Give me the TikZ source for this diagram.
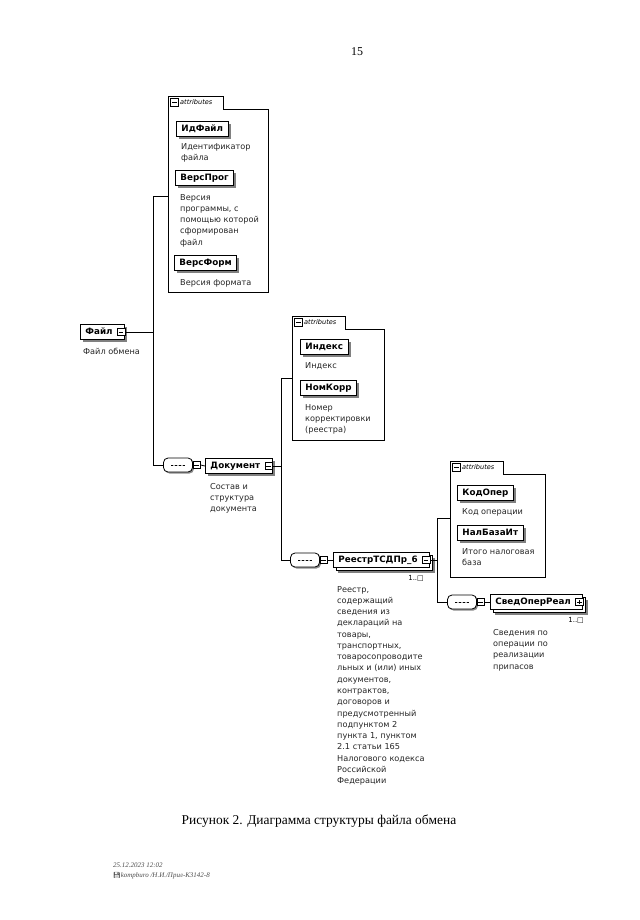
\documentclass[tikz,border=0pt]{standalone}
\usepackage{fontspec}
\setmainfont{Liberation Serif}
\newfontfamily\dv{DejaVu Sans}
\newfontfamily\emo{Noto Emoji}
\usetikzlibrary{shadows}

\newcommand{\pmgap}{\rule{7bp}{0pt}}

\tikzset{
  conn/.style={line width=0.8bp, black},
  elembase/.style={draw=black, line width=0.9bp, fill=white,
    font=\dv\bfseries\fontsize{8.8}{10}\selectfont, inner xsep=5bp, inner ysep=0pt,
    minimum height=15bp, text height=6.6bp, text depth=1.6bp, anchor=west},
  elem/.style={elembase, general shadow={fill=black!50, shadow xshift=2.5bp, shadow yshift=-2.5bp}},
  elemm/.style={elembase,
    general shadow={fill=black!50, shadow xshift=5bp, shadow yshift=-5bp},
    copy shadow={shadow xshift=2.5bp, shadow yshift=-2.5bp, draw=black, fill=white, line width=0.6bp}},
  pm/.style={draw, fill=white, line width=0.6bp, minimum size=7.5bp, inner sep=0pt,
    path picture={\draw[line width=0.6bp] ([xshift=1.4bp]path picture bounding box.west) -- ([xshift=-1.4bp]path picture bounding box.east);}},
  pp/.style={draw, fill=white, line width=0.6bp, minimum size=7.5bp, inner sep=0pt,
    path picture={\draw[line width=0.6bp] ([xshift=1.4bp]path picture bounding box.west) -- ([xshift=-1.4bp]path picture bounding box.east);
      \draw[line width=0.6bp] ([yshift=1.4bp]path picture bounding box.south) -- ([yshift=-1.4bp]path picture bounding box.north);}},
  seq/.style={draw, fill=white, line width=0.8bp, rounded corners=4.5bp, minimum width=29bp, minimum height=14bp, inner sep=0pt,
    general shadow={fill=black!45, shadow xshift=1.5bp, shadow yshift=-1.5bp},
    path picture={\draw[line width=0.5bp] ([xshift=-7bp]path picture bounding box.center) -- ([xshift=7bp]path picture bounding box.center);
      \foreach \d in {-4,0,4} \fill ([xshift=\d bp]path picture bounding box.center) circle (1bp);}},
  desc/.style={font=\dv\fontsize{8.2}{11.3}\selectfont, align=left, anchor=north west, inner sep=0pt, text=black!85},
  attr/.style={line width=0.9bp, black},
  attrlabel/.style={font=\dv\itshape\fontsize{6.6}{8}\selectfont, anchor=west, inner sep=0pt},
  mult/.style={font=\dv\fontsize{7}{8}\selectfont, anchor=east, inner sep=0pt},
}

\begin{document}
\begin{tikzpicture}[x=1bp,y=-1bp]
\useasboundingbox (0,0) rectangle (640,920);
\fill[white] (0,0) rectangle (640,920);

% page number
\node[font=\fontsize{12}{14}\selectfont] (pg) at (357,52) {15};

% ---------- level 0
\node[elem] (fajl) at (80,332) {Файл\pmgap};
\node[pm] (fajlpm) at ([xshift=-4bp]fajl.east) {};
\node[desc] (fajld) at (83,348) {Файл обмена};
\coordinate (j1) at (153,332);
\coordinate (j1t) at (153,196);
\coordinate (j1b) at (153,465);
\draw[conn] (fajlpm.east) -- (j1);
\draw[conn] (j1t) -- (j1b);

% ---------- attributes 1
\coordinate (a1) at (168,196);
\draw[attr] (168,96) -- (223,96) -- (223,109) -- (268,109) -- (268,292) -- (168,292) -- cycle;
\node[pm] (a1pm) at (174.5,102.5) {};
\node[attrlabel] (a1l) at (180,102.5) {attributes};
\draw[conn] (j1t) -- (a1);

\node[elem] (idf) at (176,129) {ИдФайл};
\node[desc] (idfd) at (181,143) {Идентификатор\\файла};
\node[elem] (vprog) at (175,178) {ВерсПрог};
\node[desc] (vprogd) at (180,194) {Версия\\программы, с\\помощью которой\\сформирован\\файл};
\node[elem] (vform) at (174,263) {ВерсФорм};
\node[desc] (vformd) at (180,279) {Версия формата};

% ---------- Документ
\node[seq] (s1) at (178,465) {};
\node[pm] (s1pm) at ([xshift=3.7bp]s1.east) {};
\node[elem] (dok) at (205,466) {Документ\pmgap};
\node[pm] (dokpm) at ([xshift=-4bp]dok.east) {};
\node[desc] (dokd) at (210,483) {Состав и\\структура\\документа};
\draw[conn] (j1b) -- (s1.west);
\draw[conn] (s1pm.east) -- (dok.west);
\coordinate (j2) at (281,466);
\coordinate (j2t) at (281,378);
\coordinate (j2b) at (281,560);
\draw[conn] (dokpm.east) -- (j2);
\draw[conn] (j2t) -- (j2b);

% ---------- attributes 2
\coordinate (a2) at (292,378);
\draw[attr] (292,316) -- (345,316) -- (345,329) -- (384,329) -- (384,440) -- (292,440) -- cycle;
\node[pm] (a2pm) at (298.5,322.5) {};
\node[attrlabel] (a2l) at (304,322.5) {attributes};
\draw[conn] (j2t) -- (a2);

\node[elem] (idx) at (300,347) {Индекс};
\node[desc] (idxd) at (305,362) {Индекс};
\node[elem] (nk) at (300,388) {НомКорр};
\node[desc] (nkd) at (305,404) {Номер\\корректировки\\(реестра)};

% ---------- РеестрТСДПр_6
\node[seq] (s2) at (305,560) {};
\node[pm] (s2pm) at ([xshift=3.7bp]s2.east) {};
\node[elemm] (rst) at (333,560) {РеестрТСДПр\_6\pmgap};
\node[pm] (rstpm) at ([xshift=-4bp]rst.east) {};
\node[mult] (rstm) at (424,578) {1..□};
\draw[conn] (j2b) -- (s2.west);
\draw[conn] (s2pm.east) -- (rst.west);
\node[desc] (rstd) at (337,586) {Реестр,\\содержащий\\сведения из\\деклараций на\\товары,\\транспортных,\\товаросопроводите\\льных и (или) иных\\документов,\\контрактов,\\договоров и\\предусмотренный\\подпунктом 2\\пункта 1, пунктом\\2.1 статьи 165\\Налогового кодекса\\Российской\\Федерации};
\coordinate (j3) at (437,560);
\coordinate (j3t) at (437,518);
\coordinate (j3b) at (437,602);
\draw[conn] (rstpm.east) -- (j3);
\draw[conn] (j3t) -- (j3b);

% ---------- attributes 3
\coordinate (a3) at (450,518);
\draw[attr] (450,461) -- (503,461) -- (503,474) -- (545,474) -- (545,577) -- (450,577) -- cycle;
\node[pm] (a3pm) at (456.5,467.5) {};
\node[attrlabel] (a3l) at (462,467.5) {attributes};
\draw[conn] (j3t) -- (a3);

\node[elem] (kod) at (457,493) {КодОпер};
\node[desc] (kodd) at (462,508) {Код операции};
\node[elem] (nb) at (457,533) {НалБазаИт};
\node[desc] (nbd) at (462,548) {Итого налоговая\\база};

% ---------- СведОперРеал
\node[seq] (s3) at (462,602) {};
\node[pm] (s3pm) at ([xshift=3.7bp]s3.east) {};
\node[elemm] (svr) at (490,602) {СведОперРеал\pmgap};
\node[pp] (svrpp) at ([xshift=-4bp]svr.east) {};
\node[mult] (svrm) at (584,620) {1..□};
\draw[conn] (j3b) -- (s3.west);
\draw[conn] (s3pm.east) -- (svr.west);
\node[desc] (svrd) at (493,629) {Сведения по\\операции по\\реализации\\припасов};

% ---------- caption and footer
\node[font=\fontsize{13.5}{16}\selectfont] (cap) at (319,821) {Рисунок 2. Диаграмма структуры файла обмена};
\node[font=\itshape\fontsize{7}{8}\selectfont, anchor=west, inner sep=0pt, text=black!70] (ft1) at (113,865) {25.12.2023 12:02};
\node[font=\itshape\fontsize{7}{8}\selectfont, anchor=west, inner sep=0pt, text=black!70] (ft2) at (113,876) {{\emo\fontsize{6}{7}\selectfont 💾}kompburo /Н.И./Прил-К3142-8};
\end{tikzpicture}
\end{document}
